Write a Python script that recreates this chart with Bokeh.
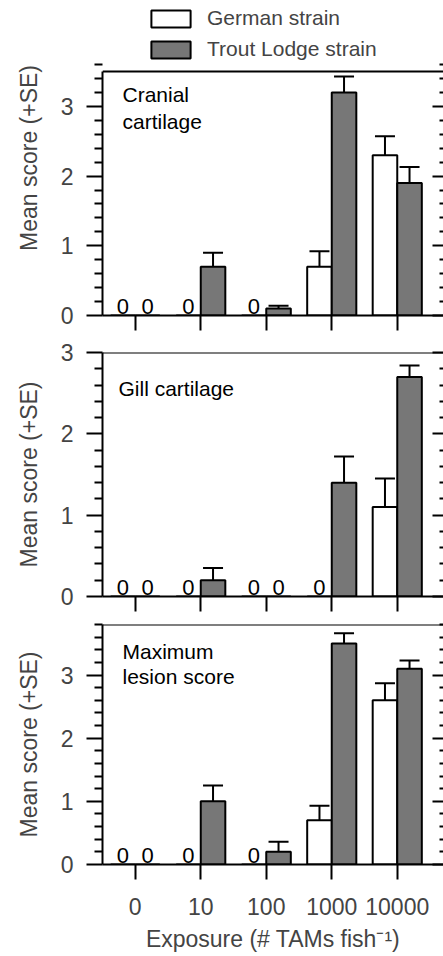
from bokeh.plotting import figure
from bokeh.layouts import column
from bokeh.models import (ColumnDataSource, FixedTicker, LinearAxis, Range1d,
                          Whisker, TeeHead, Legend, LegendItem, Label,
                          LabelSet, Span, CustomJSTickFormatter)
from bokeh.core.properties import value
from bokeh.embed import file_html
from bokeh.resources import INLINE

# ---------------- data ----------------
exposure_labels = ["0", "10", "100", "1000", "10000"]
strain_names = ["German strain", "Trout Lodge strain"]

cranial_german = [0, 0, 0, 0.7, 2.3]
cranial_german_se = [0, 0, 0, 0.22, 0.27]
cranial_trout = [0, 0.7, 0.1, 3.2, 1.9]
cranial_trout_se = [0, 0.2, 0.04, 0.23, 0.23]

gill_german = [0, 0, 0, 0, 1.1]
gill_german_se = [0, 0, 0, 0, 0.35]
gill_trout = [0, 0.2, 0, 1.4, 2.7]
gill_trout_se = [0, 0.15, 0, 0.32, 0.14]

max_german = [0, 0, 0, 0.7, 2.6]
max_german_se = [0, 0, 0, 0.23, 0.27]
max_trout = [0, 1.0, 0.2, 3.5, 3.1]
max_trout_se = [0, 0.25, 0.16, 0.16, 0.13]

FONT = "Liberation Sans"
GRAY = "#777777"
BAR_W = 0.375
LW = 2
W = 443
FRAME_H = 244


def blank():
    return CustomJSTickFormatter(code="return ''")


def make_panel(title_text, german, german_se, trout, trout_se, ymax,
               top_border, bottom_border, title_y, title_x, line_h,
               bottom_labels=False, legend_space=0):
    frame_h = FRAME_H + legend_space
    height = top_border + frame_h + bottom_border
    y_top = ymax * frame_h / FRAME_H
    p = figure(width=W, height=height,
               x_range=Range1d(-0.5, 4.706), y_range=Range1d(0, y_top),
               output_backend="svg", toolbar_location=None,
               min_border_left=102, min_border_right=0,
               min_border_top=top_border, min_border_bottom=bottom_border)
    p.outline_line_color = None
    p.xgrid.visible = False
    p.ygrid.visible = False
    p.background_fill_color = "white"
    p.border_fill_color = "white"

    xa = p.below[0]
    ya = p.left[0]

    idx = list(range(len(exposure_labels)))
    xg = [i - BAR_W / 2 for i in idx]
    xt = [i + BAR_W / 2 for i in idx]

    rg = p.vbar(x=xg, top=german, width=BAR_W, fill_color="white",
                line_color="black", line_width=LW)
    rt = p.vbar(x=xt, top=trout, width=BAR_W, fill_color=GRAY,
                line_color="black", line_width=LW)

    # error bars (upper only)
    for xs, vals, ses in ((xg, german, german_se), (xt, trout, trout_se)):
        rows = [(x, v, v + s) for x, v, s in zip(xs, vals, ses) if v > 0]
        src = ColumnDataSource(dict(x=[r[0] for r in rows],
                                    lower=[r[1] for r in rows],
                                    upper=[r[2] for r in rows]))
        w = Whisker(source=src, base="x", lower="lower", upper="upper",
                    dimension="height", line_width=LW, line_color="black",
                    upper_head=TeeHead(size=20, line_width=LW,
                                       line_color="black"),
                    lower_head=None)
        p.add_layout(w)

    # zero labels
    zx = [x for x, v in zip(xg, german) if v == 0] + \
         [x for x, v in zip(xt, trout) if v == 0]
    zsrc = ColumnDataSource(dict(x=zx, y=[0] * len(zx), t=["0"] * len(zx)))
    p.add_layout(LabelSet(x="x", y="y", text="t", source=zsrc,
                          text_align="center", text_baseline="alphabetic",
                          y_offset=2, text_font_size=value("22px"),
                          text_font=value(FONT), text_color="black"))

    # panel title
    p.add_layout(Label(x=title_x, y=title_y, x_units="screen",
                       y_units="screen", text=title_text,
                       text_font=FONT, text_font_size="21px",
                       text_baseline="top", text_align="left",
                       text_line_height=line_h, text_color="black"))

    minor = [round(0.2 * k, 1) for k in range(1, int(round(ymax / 0.2)) + 1)
             if (k % 5) != 0]
    yt = FixedTicker(ticks=[0, 1, 2, 3], minor_ticks=minor)

    # left axis
    ya.ticker = yt
    ya.bounds = (0, ymax)
    ya.axis_label = "Mean score (+SE)"
    ya.axis_label_text_font = FONT
    ya.axis_label_text_font_size = "23px"
    ya.axis_label_text_font_style = "normal"
    ya.axis_label_standoff = 16
    ya.major_label_text_font = FONT
    ya.major_label_text_font_size = "23px"
    ya.major_label_standoff = 13
    ya.major_tick_out = 16
    ya.major_tick_in = 0
    ya.minor_tick_out = 8
    ya.minor_tick_in = 0
    for a in ("axis_line", "major_tick_line", "minor_tick_line"):
        setattr(ya, a + "_width", LW)
        setattr(ya, a + "_color", "black")

    # right axis (ticks inward, line off-page)
    ra = LinearAxis(ticker=yt, formatter=blank(), axis_line_color=None,
                    bounds=(0, ymax),
                    major_tick_in=11, major_tick_out=0,
                    minor_tick_in=4, minor_tick_out=0,
                    major_tick_line_width=LW, minor_tick_line_width=LW,
                    major_label_text_font_size="1px", major_label_standoff=0)
    p.add_layout(ra, "right")

    # top border line of the plotting box
    p.add_layout(Span(location=ymax, dimension="width", line_color="black",
                      line_width=LW))

    # bottom axis
    xa.ticker = FixedTicker(ticks=idx, minor_ticks=[])
    xa.major_tick_out = 15
    xa.major_tick_in = 0
    xa.minor_tick_out = 0
    xa.minor_tick_in = 0
    xa.axis_line_width = LW
    xa.major_tick_line_width = LW
    if bottom_labels:
        xa.major_label_overrides = {i: lab for i, lab in zip(idx, exposure_labels)}
        xa.major_label_text_font = FONT
        xa.major_label_text_font_size = "23px"
        xa.major_label_standoff = 18
        xa.axis_label = "Exposure (# TAMs fish\u207b\u00b9)"
        xa.axis_label_text_font = FONT
        xa.axis_label_text_font_size = "23px"
        xa.axis_label_text_font_style = "normal"
        xa.axis_label_standoff = 8
    else:
        xa.formatter = blank()
        xa.major_label_text_font_size = "1px"
        xa.major_label_standoff = 0

    if legend_space:
        lg = Legend(items=[LegendItem(label=strain_names[0], renderers=[rg]),
                           LegendItem(label=strain_names[1], renderers=[rt])],
                    location=(44, FRAME_H + 10), glyph_width=49,
                    glyph_height=21, label_height=21, spacing=7,
                    label_standoff=12, label_text_font=FONT,
                    label_text_font_size="21px", padding=0, margin=0,
                    border_line_color=None, background_fill_alpha=0)
        p.add_layout(lg)
    return p


p1 = make_panel("Cranial\ncartilage", cranial_german, cranial_german_se,
                cranial_trout, cranial_trout_se, 3.5,
                top_border=0, bottom_border=20, title_y=233, title_x=20,
                line_h=1.2, legend_space=71)
p2 = make_panel("Gill cartilage", gill_german, gill_german_se,
                gill_trout, gill_trout_se, 3.0,
                top_border=17, bottom_border=16, title_y=220, title_x=16,
                line_h=1.2)
p3 = make_panel("Maximum\nlesion score", max_german, max_german_se,
                max_trout, max_trout_se, 3.8,
                top_border=12, bottom_border=86, title_y=225, title_x=20,
                line_h=1.1, bottom_labels=True)

layout = column(p1, p2, p3, spacing=0)
open("out.html", "w").write(file_html(layout, INLINE))
